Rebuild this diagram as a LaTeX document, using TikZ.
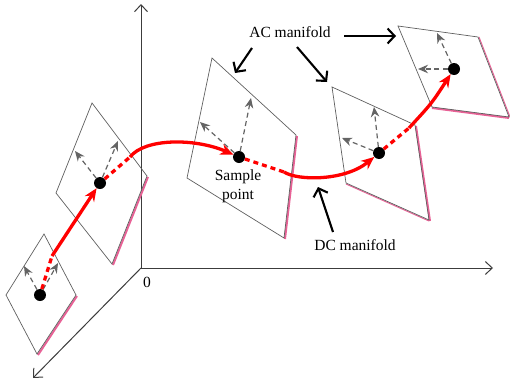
\documentclass[tikz,border=0pt]{standalone}
\usepackage{fontspec}
\setmainfont{Liberation Serif}
\usepackage{xcolor}
\usepackage{tikz}
\usetikzlibrary{arrows.meta}

\definecolor{edgepink}{RGB}{232,98,150}
\definecolor{planegray}{RGB}{95,95,95}
\definecolor{axisgray}{RGB}{60,60,60}
\definecolor{vecgray}{RGB}{100,100,100}

\begin{document}
\begin{tikzpicture}[
  x=1pt, y=-1pt,
  plane/.style={draw=planegray, line width=0.7pt, line join=miter},
  rim/.style={draw=edgepink, line width=2pt},
  axis/.style={draw=axisgray, line width=1pt, -{Straight Barb[length=7pt,width=13pt,line width=1pt]}},
  dot/.style={circle, fill=black, inner sep=0pt, minimum size=12pt},
  vec/.style={draw=vecgray, line width=1.2pt, dash pattern=on 5pt off 3.5pt, -{Stealth[length=10pt,width=8.5pt]}},
  flow/.style={draw=red, line width=3.3pt, -{Stealth[length=13pt,width=11pt]}},
  gap/.style={draw=red, line width=3.3pt, dash pattern=on 5pt off 4pt},
  label/.style={font=\fontsize{15.5}{19}\selectfont, align=center, inner sep=1pt},
  callout/.style={draw=black, line width=2.1pt, -{Straight Barb[length=7pt,width=15pt,line width=2.1pt]}}
]
\useasboundingbox (0,0) rectangle (510,388);

% axes
\coordinate (origin) at (141,268);
\coordinate (zend) at (141,4);
\coordinate (xend) at (493,268);
\coordinate (yend) at (33,378);
\draw[axis] (origin) -- (zend);
\draw[axis] (origin) -- (xend);
\draw[axis] (origin) -- (yend);
\node[label, anchor=north] (zero) at (147,276) {0};

% manifolds (tangent planes)
\draw[rim] (77,296) -- (38,355);
\draw[plane] (44,234) -- (76,295) -- (37,354) -- (6,295) -- cycle;
\draw[rim] (148,177) -- (113,265);
\draw[plane] (92,103) -- (147,176) -- (112,264) -- (56,193) -- cycle;
\draw[rim] (297,136) -- (285,239);
\draw[plane] (212,58) -- (296,135) -- (284,238) -- (187,178) -- cycle;
\draw[rim] (416,126) -- (430,221);
\draw[rim, line width=1pt] (346,184) -- (429,221);
\draw[plane] (332,87) -- (415,125) -- (429,220) -- (346,183) -- cycle;
\draw[rim] (432,108) -- (509,118);
\draw[rim, line width=1pt] (479,37) -- (510,117);
\draw[plane] (398,26) -- (478,37) -- (509,117) -- (432,107) -- cycle;

% sample points
\node[dot] (p1) at (40,295) {};
\node[dot] (p2) at (100,183) {};
\node[dot] (p3) at (239,157) {};
\node[dot] (p4) at (379,153) {};
\node[dot] (p5) at (454,69) {};

% tangent directions
\coordinate (t1a) at (24,266);
\coordinate (t1b) at (58,263);
\coordinate (t2a) at (75,151);
\coordinate (t2b) at (118,141);
\coordinate (t3a) at (200,122);
\coordinate (t3b) at (251,98);
\coordinate (t4a) at (342,138);
\coordinate (t4b) at (374,107);
\coordinate (t5a) at (418,69);
\coordinate (t5b) at (437,33);
\foreach \p/\a/\b in {p1/t1a/t1b, p2/t2a/t2b, p3/t3a/t3b, p4/t4a/t4b, p5/t5a/t5b} {
  \draw[vec] (\p) -- (\a);
  \draw[vec] (\p) -- (\b);
}

% trajectory on the DC manifold
\coordinate (e1) at (52,256);
\coordinate (e2) at (130,157);
\coordinate (e3) at (284,172);
\coordinate (e4) at (409,128);
\draw[gap] (p1) -- (e1);
\draw[flow] (e1) -- (p2);
\draw[gap] (p2) -- (e2);
\draw[flow] (e2) .. controls (145,138) and (195,138) .. (p3);
\draw[gap] (p3) -- (e3);
\draw[flow] (e3) .. controls (298,181) and (345,181) .. (p4);
\draw[gap] (p4) -- (e4);
\draw[flow] (e4) .. controls (432,103) .. (p5);

% labels
\node[label] (sample) at (238,186) {Sample\\point};
\node[label] (ac) at (290,32) {AC manifold};
\node[label] (dc) at (355,245) {DC manifold};
\coordinate (ac1) at (252,48);
\coordinate (ac1t) at (235,73);
\coordinate (ac2) at (297,47);
\coordinate (ac2t) at (327,82);
\coordinate (ac3) at (344,36);
\coordinate (ac3t) at (396,36);
\coordinate (dc1) at (333,232);
\coordinate (dc1t) at (318,187);
\draw[callout] (ac1) -- (ac1t);
\draw[callout] (ac2) -- (ac2t);
\draw[callout] (ac3) -- (ac3t);
\draw[callout] (dc1) -- (dc1t);
\end{tikzpicture}
\end{document}
